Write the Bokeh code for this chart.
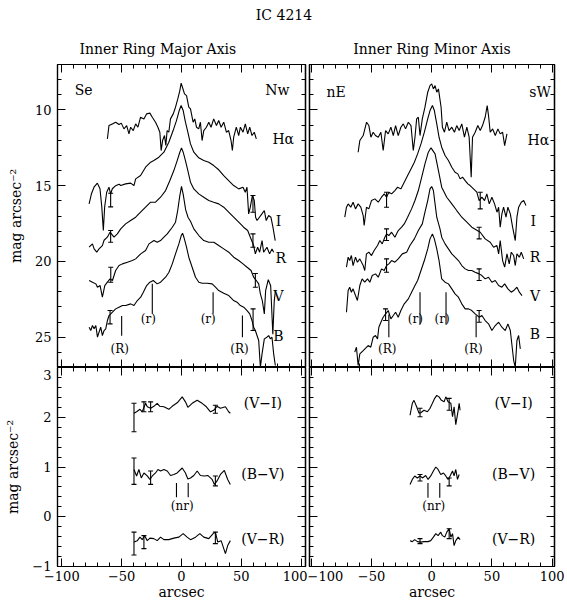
from bokeh.plotting import figure
from bokeh.models import Range1d, LinearAxis, FixedTicker, Label
from bokeh.layouts import column, row
from bokeh.embed import file_html
from bokeh.resources import INLINE

FONT = "DejaVu Serif"

# ---------------- data (x in arcsec, y in mag arcsec^-2) ----------------
HA_MAJ = [(-61.9,11.91),(-60.6,11.03),(-57.8,10.92),(-55.0,10.81),(-52.2,10.96),(-50.3,10.87),(-48.1,11.25),
          (-45.8,11.03),(-43.9,11.58),(-42.5,11.14),(-40.3,11.36),(-38.3,10.92),(-36.4,11.14),(-34.2,10.48),
          (-31.4,10.59),(-29.2,10.26),(-26.4,10.21),(-24.4,10.48),(-21.7,10.81),(-19.7,11.14),(-18.1,11.47),
          (-17.0,12.68),(-15.8,12.02),(-14.2,11.69),(-13.1,12.35),(-12.0,11.36),(-10.6,11.47),(-9.2,10.59),
          (-6.9,10.26),(-5.0,9.82),(-3.1,9.27),(-1.4,8.72),(-0.3,8.23),(0.8,8.50),(2.5,8.94),(4.2,9.05),
          (6.1,9.82),(7.5,9.93),(9.7,10.81),(11.1,10.59),(12.5,11.14),(14.4,11.25),(15.8,10.81),(17.2,12.02),
          (18.6,11.36),(20.8,11.14),(22.8,10.81),(24.7,11.14),(26.9,10.59),(29.2,11.03),(31.1,10.70),
          (33.1,11.14),(35.3,10.81),(37.5,11.47),(39.4,11.36),(41.4,12.02),(42.5,12.68),(43.6,11.80),
          (45.8,11.14),(47.8,11.69),(49.2,11.14),(51.4,11.47),(53.3,10.92),(55.3,11.58),(57.0,11.14),
          (58.9,11.69),(60.8,11.47),(62.5,11.91)]
I_MAJ = [(-77.2,16.2),(-75.3,15.55),(-73.1,15.1),(-70.3,14.83),(-68.1,15.2),(-66.6,16.4),(-65.3,17.96),
         (-64.2,16.4),(-62.5,15.43),(-60.6,15.1),(-59.2,15.55),(-57.8,15.2),(-55.0,15.0),(-52.2,14.9),
         (-50.8,14.99),(-46.7,14.88),(-42.5,14.83),(-39.7,14.99),(-38.3,14.55),(-34.2,14.33),(-30.0,13.78),
         (-25.8,13.45),(-23.1,13.34),(-18.9,13.12),(-14.7,12.79),(-10.6,12.13),(-7.0,11.36),(-4.2,10.7),
         (-1.9,10.04),(-0.3,9.71),(1.4,10.04),(3.3,10.81),(5.3,11.47),(7.5,12.24),(10.3,12.79),(14.4,13.16),
         (18.6,13.34),(22.8,13.45),(26.9,13.67),(31.1,13.95),(35.3,14.33),(39.4,14.66),(43.6,14.99),
         (47.8,15.21),(51.4,15.1),(53.3,15.43),(54.7,15.1),(56.1,16.86),(57.5,16.42),(59.2,15.65),
         (60.8,15.98),(61.9,17.08),(63.1,17.3),(67.2,16.86),(69.2,16.64),(70.8,17.3),(72.8,16.97),
         (74.7,17.08),(76.4,17.74),(78.3,18.62)]
R_MAJ = [(-77.2,19.06),(-74.4,18.84),(-73.0,19.17),(-70.8,19.39),(-68.9,19.17),(-66.1,18.95),(-64.7,18.6),
         (-62.0,18.4),(-59.7,18.07),(-56.4,18.4),(-53.6,18.18),(-50.8,17.85),(-46.7,17.52),(-42.5,17.3),
         (-38.3,17.08),(-34.2,16.75),(-30.0,16.42),(-25.8,16.09),(-21.7,16.09),(-17.5,15.76),(-13.3,15.32),
         (-9.7,14.66),(-6.4,14.0),(-3.6,13.34),(-1.4,12.79),(0.0,12.5),(1.4,12.79),(3.3,13.34),(5.3,14.0),
         (7.5,14.77),(10.3,15.21),(14.4,15.54),(18.6,15.76),(22.8,15.98),(26.9,16.09),(31.1,16.2),
         (35.3,16.42),(39.4,16.75),(43.6,17.08),(47.8,17.41),(51.9,17.74),(55.3,17.96),(57.5,18.4),
         (60.3,18.95),(61.7,19.5),(63.6,19.06),(65.3,19.39),(67.3,18.62),(68.6,19.39),(71.4,19.06),
         (73.6,19.5),(75.6,19.17),(77.0,19.39)]
V_MAJ = [(-77.2,21.26),(-74.4,21.37),(-71.6,21.48),(-70.2,21.7),(-68.0,21.59),(-66.1,22.36),(-64.1,21.59),
         (-61.9,21.37),(-59.7,21.15),(-57.7,21.26),(-55.0,20.6),(-52.2,20.27),(-49.4,20.16),(-45.2,20.05),
         (-41.1,19.94),(-38.3,19.83),(-34.1,19.5),(-30.0,19.28),(-27.2,18.84),(-23.0,18.62),(-20.3,18.73),
         (-17.5,18.62),(-14.7,18.4),(-11.9,18.18),(-7.7,17.74),(-5.0,17.41),(-3.3,16.7),(-1.5,15.7),
         (0.0,15.05),(1.5,15.6),(3.5,16.6),(5.5,17.1),(7.5,17.35),(10.3,17.85),(14.5,18.29),(18.6,18.62),
         (22.8,18.73),(27.0,18.73),(31.1,18.95),(35.3,19.17),(39.5,19.39),(43.6,19.72),(47.8,19.94),
         (51.4,20.16),(54.8,20.38),(58.1,20.6),(60.3,21.04),(62.5,21.26),(64.5,21.48),(65.9,22.14),
         (67.5,22.58),(69.2,23.46),(70.3,21.92),(72.5,21.2),(74.5,21.6),(76.3,24.8),(77.5,22.6),(78.5,21.9)]
B_MAJ = [(-77.2,24.34),(-75.8,24.56),(-74.4,24.23),(-73.0,24.45),(-71.6,24.23),(-70.2,25.0),(-68.9,24.67),
         (-67.5,24.34),(-66.1,24.89),(-64.7,24.56),(-63.3,24.45),(-61.9,23.9),(-60.5,23.57),(-57.7,23.35),
         (-55.0,23.13),(-52.2,23.02),(-49.4,22.91),(-46.6,22.91),(-42.5,22.8),(-39.7,22.91),(-36.9,22.58),
         (-34.1,22.36),(-31.9,22.03),(-29.1,21.59),(-26.4,21.37),(-23.6,21.26),(-20.3,21.48),(-17.5,21.37),
         (-13.3,21.04),(-10.5,20.71),(-7.7,20.16),(-5.0,19.5),(-2.2,18.84),(-0.2,18.29),(0.9,18.14),
         (2.0,18.4),(4.2,19.06),(6.1,19.72),(8.9,20.38),(11.7,21.04),(14.5,21.37),(17.3,21.44),(21.4,21.44),
         (25.6,21.48),(28.4,21.7),(31.1,21.92),(35.3,22.1),(39.5,22.25),(43.6,22.58),(46.4,22.69),
         (49.2,22.91),(52.0,23.02),(54.8,23.24),(57.0,23.46),(58.9,23.9),(60.3,24.34),(61.7,24.56),
         (63.1,24.89),(64.5,25.22),(65.9,26.98),(67.3,26.1),(69.2,25.11),(71.4,25.0),(72.8,24.89),
         (74.2,25.11),(75.6,25.0),(77.0,26.1),(78.4,26.87)]

HA_MIN = [(-61.1,12.79),(-59.7,12.02),(-56.9,11.69),(-54.1,10.81),(-52.2,11.03),(-50.5,11.8),(-48.6,11.47),
          (-46.7,11.69),(-44.4,11.8),(-42.2,11.47),(-40.3,12.68),(-38.3,11.36),(-36.1,11.58),(-33.9,11.14),
          (-31.9,11.69),(-30.0,11.03),(-27.8,11.69),(-25.6,11.14),(-23.6,10.92),(-21.7,11.25),(-19.4,10.81),
          (-17.2,11.03),(-15.3,12.68),(-13.9,11.8),(-12.5,10.59),(-11.1,10.48),(-9.7,11.69),(-7.8,10.59),
          (-5.6,9.82),(-3.3,8.83),(-1.4,8.39),(0.0,8.28),(1.4,8.61),(2.8,8.39),(4.2,8.83),(5.6,8.61),
          (7.8,9.82),(8.9,11.14),(10.6,11.47),(12.5,10.81),(14.4,11.36),(16.7,11.14),(18.9,11.47),
          (20.8,11.03),(22.8,11.36),(25.0,10.92),(27.2,11.8),(29.2,11.14),(31.1,11.8),(32.8,14.44),
          (33.9,11.8),(36.1,11.47),(38.3,11.03),(40.3,11.36),(42.2,11.03),(44.4,10.48),(46.1,9.71),
          (47.2,10.37),(48.6,11.47),(50.6,11.25),(52.8,11.69),(55.0,11.25),(56.9,11.58),(58.9,11.47),
          (60.6,12.35),(62.5,11.58)]
I_MIN = [(-72.2,17.08),(-70.8,16.42),(-69.4,16.2),(-67.2,16.42),(-65.3,16.09),(-63.3,16.53),(-61.1,16.2),
         (-58.9,16.42),(-56.9,16.97),(-56.1,17.63),(-54.2,16.42),(-52.2,16.53),(-50.0,15.98),(-47.2,15.87),
         (-44.4,16.09),(-41.7,15.76),(-39.4,15.54),(-37.5,15.76),(-35.6,15.43),(-33.3,15.54),(-30.6,15.32),
         (-28.3,15.1),(-25.6,15.21),(-22.8,14.77),(-20.0,14.33),(-17.2,13.89),(-14.4,13.45),(-11.7,12.9),
         (-8.9,12.24),(-6.1,11.47),(-3.3,10.59),(-1.4,10.04),(0.6,9.71),(2.2,10.04),(4.2,10.92),(6.1,11.8),
         (8.3,12.46),(11.1,13.01),(13.9,13.34),(16.7,13.78),(19.4,14.11),(21.7,14.22),(23.6,14.55),
         (25.6,14.44),(27.8,14.66),(30.0,14.88),(31.9,14.99),(34.7,15.21),(37.5,15.43),(39.4,15.98),
         (41.7,15.76),(43.9,15.98),(45.8,15.54),(47.8,16.2),(50.0,15.76),(52.2,16.2),(54.2,16.75),
         (55.6,16.42),(56.9,17.74),(58.3,16.86),(59.7,16.42),(61.7,17.08),(63.3,16.42),(65.3,16.86),
         (67.2,17.74),(69.4,18.62),(70.8,17.08),(72.2,16.42),(74.4,16.09),(76.4,15.98),(78.3,16.31)]
R_MIN = [(-70.8,20.38),(-69.4,19.72),(-68.1,19.94),(-66.7,19.61),(-65.3,20.27),(-63.3,19.72),(-61.7,20.05),
         (-59.7,19.83),(-56.9,20.27),(-55.6,20.6),(-54.2,19.5),(-52.2,19.39),(-50.0,19.61),(-47.8,19.28),
         (-45.0,18.95),(-43.1,18.62),(-41.1,18.84),(-38.9,18.4),(-37.5,18.18),(-35.6,18.29),(-33.3,18.07),
         (-30.6,18.4),(-27.8,17.96),(-25.0,17.74),(-22.8,17.52),(-20.0,17.08),(-16.7,16.53),(-13.9,15.98),
         (-11.1,15.32),(-8.3,14.44),(-5.6,13.56),(-2.8,12.79),(-0.6,12.5),(2.8,12.9),(5.6,14.0),(8.3,15.1),
         (12.5,15.76),(16.7,16.2),(20.8,16.64),(25.0,17.08),(29.2,17.41),(33.3,17.74),(40.3,18.07),
         (44.4,18.51),(48.6,18.73),(51.4,19.06),(54.2,18.95),(55.6,19.5),(56.9,18.62),(58.9,19.94),
         (60.6,20.38),(62.5,19.5),(64.4,20.16),(66.1,19.39),(68.1,19.61),(69.4,20.27),(70.8,19.5),
         (72.8,19.72),(74.4,19.39),(76.4,19.83)]
V_MIN = [(-70.8,23.35),(-69.4,21.92),(-68.1,21.7),(-66.7,22.03),(-65.3,21.81),(-63.3,22.25),(-61.7,22.58),
         (-59.7,21.59),(-57.8,21.15),(-55.6,21.37),(-53.3,21.15),(-51.4,21.37),(-49.4,20.93),(-46.7,20.82),
         (-44.4,21.04),(-41.7,20.49),(-39.4,20.6),(-37.5,20.27),(-35.6,20.16),(-33.3,19.94),(-30.6,20.05),
         (-27.8,19.83),(-24.4,19.5),(-20.8,19.39),(-18.1,18.95),(-14.4,18.51),(-11.1,17.96),(-7.8,17.52),
         (-5.6,16.75),(-3.3,15.98),(-1.4,15.21),(0.0,15.05),(1.4,15.32),(2.8,16.2),(4.2,17.08),(5.0,17.3),
         (6.9,17.85),(8.3,18.4),(11.1,18.84),(13.9,19.17),(16.7,19.5),(19.4,19.72),(22.2,19.94),(25.0,20.27),
         (27.8,20.49),(30.6,20.6),(33.3,20.6),(36.1,20.71),(39.4,20.82),(41.7,20.93),(44.4,21.15),
         (47.2,21.04),(50.0,21.37),(52.8,21.26),(55.6,21.59),(58.3,21.7),(60.6,21.48),(63.3,21.81),
         (66.1,22.03),(68.1,21.92),(70.8,21.7),(72.8,22.03),(75.0,22.25)]
B_MIN = [(-63.9,25.99),(-62.5,25.66),(-61.1,26.87),(-59.7,26.1),(-56.9,25.88),(-52.8,25.55),(-50.6,25.66),
         (-48.6,25.0),(-46.7,24.89),(-45.0,25.11),(-43.9,24.34),(-42.2,24.01),(-40.3,23.68),(-38.3,23.46),
         (-36.1,23.24),(-33.9,23.79),(-31.9,23.57),(-30.0,23.35),(-27.8,23.68),(-25.6,23.24),(-22.8,22.8),
         (-19.4,22.47),(-16.7,22.03),(-13.9,21.59),(-11.7,21.26),(-8.9,20.6),(-6.1,19.94),(-3.3,19.17),
         (-1.4,18.51),(0.6,18.18),(2.2,18.51),(4.2,19.17),(6.1,19.94),(8.3,21.15),(11.1,21.37),(13.9,21.48),
         (16.7,21.81),(19.4,22.14),(22.2,22.36),(25.0,22.8),(27.8,23.13),(30.6,23.13),(33.3,23.24),
         (36.1,23.46),(39.4,23.68),(41.7,23.57),(44.4,23.9),(47.2,24.12),(50.0,24.56),(52.8,24.23),
         (55.6,24.01),(58.3,24.34),(61.1,24.56),(63.3,24.12),(65.3,24.56),(68.1,26.54),(69.4,26.98),
         (70.8,25.22),(72.2,24.89),(73.6,25.77)]

# colour profiles (mag arcsec^-2)
VI_MAJ = [(-39.7,2.08),(-37.5,2.11),(-34.7,2.16),(-32.8,2.11),(-30.0,2.28),(-28.6,2.21),(-25.8,2.18),
          (-23.1,2.22),(-20.3,2.28),(-18.1,2.22),(-14.7,2.21),(-10.6,2.16),(-7.8,2.22),(-3.6,2.29),
          (0.6,2.41),(3.3,2.31),(5.3,2.2),(8.9,2.28),(13.1,2.34),(17.2,2.28),(20.8,2.21),(24.2,2.11),
          (26.9,2.14),(29.7,2.22),(32.5,2.18),(36.7,2.21),(39.4,2.11),(40.8,2.08)]
BV_MAJ = [(-39.7,0.95),(-37.5,0.82),(-35.6,0.95),(-33.6,0.78),(-31.4,0.88),(-28.6,0.82),(-26.4,0.75),
          (-24.4,0.82),(-21.7,0.88),(-19.7,0.95),(-17.5,0.92),(-14.7,0.95),(-11.9,0.92),(-9.2,0.83),
          (-6.4,0.85),(-3.6,0.88),(0.6,0.98),(3.3,0.88),(5.3,0.76),(7.5,0.78),(10.3,0.83),(13.1,0.92),
          (15.8,0.83),(19.2,0.82),(21.9,0.83),(25.6,0.75),(27.5,0.65),(29.7,0.72),(32.5,0.85),(35.8,0.93),
          (38.6,0.75),(40.8,0.65)]
VR_MAJ = [(-39.7,-0.51),(-36.9,-0.48),(-34.7,-0.41),(-32.8,-0.46),(-30.8,-0.38),(-28.6,-0.48),(-26.4,-0.43),
          (-23.1,-0.44),(-20.3,-0.48),(-17.5,-0.41),(-14.7,-0.46),(-10.6,-0.46),(-6.4,-0.43),(-2.2,-0.41),
          (1.4,-0.34),(4.7,-0.41),(7.5,-0.46),(11.7,-0.41),(15.3,-0.34),(18.6,-0.41),(22.8,-0.44),
          (26.4,-0.34),(28.3,-0.31),(30.3,-0.51),(33.1,-0.48),(36.7,-0.74),(38.6,-0.58),(40.8,-0.48)]
VI_MIN = [(-18.0,2.04),(-16.1,2.28),(-14.7,2.34),(-12.5,2.21),(-10.5,2.08),(-9.1,2.09),(-6.4,2.14),
          (-3.6,2.11),(-1.4,2.18),(0.6,2.28),(2.5,2.38),(4.2,2.44),(6.1,2.41),(8.1,2.34),(10.3,2.31),
          (11.7,2.41),(13.6,2.31),(15.9,2.28),(17.3,2.01),(18.6,2.21),(20.0,1.85),(22.0,2.14),(22.8,2.28),
          (23.6,2.14)]
BV_MIN = [(-18.0,0.65),(-16.1,0.75),(-14.1,0.82),(-11.9,0.78),(-9.7,0.82),(-7.7,0.78),(-5.0,0.83),
          (-3.0,0.75),(-0.8,0.82),(1.4,0.92),(3.4,1.0),(5.3,0.95),(7.5,0.85),(9.8,0.88),(11.7,0.82),
          (13.6,0.75),(15.3,0.82),(17.3,0.92),(18.6,0.82),(20.0,0.95),(21.4,0.75),(22.8,0.85)]
VR_MIN = [(-18.0,-0.48),(-16.1,-0.5),(-14.1,-0.46),(-11.9,-0.5),(-9.1,-0.51),(-6.4,-0.5),(-3.0,-0.5),
          (-0.8,-0.48),(1.4,-0.41),(3.4,-0.34),(5.3,-0.38),(7.5,-0.31),(8.9,-0.38),(10.9,-0.41),(12.5,-0.31),
          (14.5,-0.24),(15.9,-0.41),(17.3,-0.34),(18.6,-0.58),(20.0,-0.48),(22.0,-0.41),(23.6,-0.46)]

# error bars: (x, low, high)
ERR_MAJ = [(-59.2,15.5,16.4),(59.7,15.65,16.75),(-59.2,17.96,18.73),(59.7,18.18,19.06),
           (-59.1,20.38,21.37),(61.7,20.8,21.7),(-59.7,23.24,24.12),(59.8,23.13,24.56)]
ERR_MIN = [(-37.5,15.43,16.42),(40.3,15.43,16.53),(-37.5,17.85,18.62),(39.4,17.74,18.51),
           (-37.5,19.83,20.71),(39.4,20.49,21.26),(-38.3,23.13,23.9),(39.4,23.24,24.01)]
ERR_COL_MAJ = [(-39.7,1.71,2.28),(-31.4,2.11,2.31),(-25.8,2.11,2.31),(28.3,2.08,2.24),
               (-39.7,0.65,1.18),(-25.8,0.65,0.92),(28.3,0.62,0.82),
               (-39.7,-0.77,-0.31),(-31.4,-0.64,-0.38),(28.3,-0.54,-0.31)]
ERR_COL_MIN = [(-9.7,2.01,2.18),(14.5,2.14,2.38),(-9.7,0.72,0.85),(14.5,0.62,0.78),
               (-9.7,-0.54,-0.44),(14.5,-0.44,-0.24)]

# ring markers: (x, top, bottom) and their labels (text, x, y)
RING_MAJ = [(-50.0,23.6,24.9),(-24.4,21.48,23.46),(26.4,22.03,23.46),(50.9,23.57,25.0)]
RING_MAJ_TXT = [("(R)",-51.6,25.77),("(r)",-27.7,23.83),("(r)",22.3,23.83),("(R)",48.4,25.77)]
RING_MIN = [(-35.6,23.5,25.0),(-9.7,22.03,24.16),(11.9,22.03,24.16),(36.9,23.57,25.0)]
RING_MIN_TXT = [("(R)",-36.9,25.77),("(r)",-13.6,23.83),("(r)",8.6,23.83),("(R)",34.7,25.77)]
NR_MAJ = [(-4.2,0.39,0.68),(5.6,0.39,0.68)]
NR_MIN = [(-3.1,0.38,0.68),(6.7,0.38,0.68)]
NR_MAJ_TXT = ("(nr)", 0.6, 0.22)
NR_MIN_TXT = ("(nr)", 1.7, 0.22)

BANDS = ["Hα", "I", "R", "V", "B"]
BAND_MAJ_POS = [(85,11.9),(81,17.3),(83,19.8),(81,22.3),(81,24.9)]
BAND_MIN_POS = [(88.6,12.0),(84.4,17.3),(85.8,19.7),(85.8,22.25),(85.8,24.8)]
CORNER_MAJ = [("Se",-81.7,8.7),("Nw",80,8.7)]
CORNER_MIN = [("nE",-79.4,8.8),("sW",90,8.8)]
COLORS = ["(V−I)", "(B−V)", "(V−R)"]
COLOR_POS_Y = [2.28, 0.85, -0.44]
COLOR_POS_X = 68

X_MAJ = (-103.6, 103.6)
X_MIN = (-101.5, 102.0)
Y_TOP = (27, 7)
Y_BOT = (-1, 3)
X_TICKS = [-100, -50, 0, 50, 100]
X_MINOR = [-90, -80, -70, -60, -40, -30, -20, -10, 10, 20, 30, 40, 60, 70, 80, 90]
MAG_TICKS = [10, 15, 20, 25]
MAG_MINOR = [8, 9, 11, 12, 13, 14, 16, 17, 18, 19, 21, 22, 23, 24, 26]
COL_TICKS = [-1, 0, 1, 2, 3]
COL_MINOR = [-0.8, -0.6, -0.4, -0.2, 0.2, 0.4, 0.6, 0.8, 1.2, 1.4, 1.6, 1.8, 2.2, 2.4, 2.6, 2.8]
YLABEL = "mag arcsec⁻²"
# tick-label text: typeset minus signs; the top "3" sits just below the panel divider
LABEL_TEXT = {-100: "−100", -50: "−50", -1: "−1", 3: "\n3"}


def unzip(pairs):
    return [q[0] for q in pairs], [q[1] for q in pairs]


def new_fig(w, h, xr, yr, left, right, top, bottom, title=None, **extra):
    kw = dict(extra)
    if title is not None:
        kw["title"] = title
    p = figure(width=w, height=h, x_range=Range1d(*xr), y_range=Range1d(*yr),
               x_axis_type=None, y_axis_type=None, toolbar_location=None,
               output_backend="svg", min_border_left=left, min_border_right=right,
               min_border_top=top, min_border_bottom=bottom, **kw)
    p.outline_line_color = "black"
    p.outline_line_width = 1.2
    p.background_fill_color = "white"
    p.border_fill_color = "white"
    if title is not None:
        p.title.text_font = FONT
        p.title.text_font_size = "14px"
        p.title.text_font_style = "normal"
        p.title.text_color = "black"
    return p


def labeled_axis(p, side, ticks, minor, label=None, label_standoff=6, axis_label_standoff=6,
                 line_height=None):
    ax = LinearAxis(ticker=FixedTicker(ticks=ticks, minor_ticks=minor))
    ax.major_tick_in = 8
    ax.major_tick_out = 0
    ax.minor_tick_in = 4
    ax.minor_tick_out = 0
    ax.major_tick_line_color = "black"
    ax.minor_tick_line_color = "black"
    ax.axis_line_color = "black"
    ax.axis_line_width = 1.2
    ax.major_label_text_font = FONT
    ax.major_label_text_font_size = "13px"
    ax.major_label_text_color = "black"
    ax.major_label_standoff = label_standoff
    if line_height is not None:
        ax.major_label_text_line_height = line_height
    ax.major_label_overrides = {k: v for k, v in LABEL_TEXT.items() if k in ticks}
    if label:
        ax.axis_label = label
        ax.axis_label_text_font = FONT
        ax.axis_label_text_font_size = "14px"
        ax.axis_label_text_font_style = "normal"
        ax.axis_label_text_color = "black"
        ax.axis_label_standoff = axis_label_standoff
    p.add_layout(ax, side)


def tick_axis(p, side, major, minor):
    # label-free tick marks: both tick sets drawn as minor ticks of two stacked axes
    for pos, length in ((major, 8), (minor, 4)):
        ax = LinearAxis(ticker=FixedTicker(ticks=[], minor_ticks=pos))
        ax.major_tick_in = 0
        ax.major_tick_out = 0
        ax.minor_tick_in = length
        ax.minor_tick_out = 0
        ax.minor_tick_line_color = "black"
        ax.major_label_standoff = 0
        ax.axis_line_color = "black"
        ax.axis_line_width = 1.2
        p.add_layout(ax, side)


def draw_lines(p, curves):
    for c in curves:
        xs, ys = unzip(c)
        p.line(xs, ys, line_color="black", line_width=1.1)


def draw_bars(p, bars, cap=True):
    xs = [b[0] for b in bars]
    lo = [b[1] for b in bars]
    hi = [b[2] for b in bars]
    p.segment(x0=xs, y0=lo, x1=xs, y1=hi, line_color="black", line_width=1.1)
    if cap:
        p.scatter(xs, lo, marker="dash", size=5, line_color="black", line_width=1.1)
        p.scatter(xs, hi, marker="dash", size=5, line_color="black", line_width=1.1)


def put_text(p, text, x, y, size="14px", align="center"):
    p.add_layout(Label(x=x, y=y, text=text, text_font=FONT, text_font_size=size,
                       text_align=align, text_baseline="middle", text_color="black"))


# ---------------- header ----------------
H = new_fig(567, 30, (0, 1), (0, 1), 0, 0, 22, 0, title="IC 4214")
H.title.align = "center"
H.title.standoff = 0
H.outline_line_color = None

# ---------------- top-left: major axis profiles ----------------
TL = new_fig(307, 337, X_MAJ, Y_TOP, 57, 2, 34, 0, title="Inner Ring Major Axis")
TL.title.align = "left"
TL.title.offset = 22
TL.title.standoff = 15
labeled_axis(TL, "left", MAG_TICKS, MAG_MINOR, label=YLABEL, axis_label_standoff=8)
tick_axis(TL, "right", MAG_TICKS, MAG_MINOR)
tick_axis(TL, "above", X_TICKS, X_MINOR)
tick_axis(TL, "below", X_TICKS, X_MINOR)
draw_lines(TL, [HA_MAJ, I_MAJ, R_MAJ, V_MAJ, B_MAJ])
draw_bars(TL, ERR_MAJ)
draw_bars(TL, RING_MAJ, cap=False)
for t, x, y in RING_MAJ_TXT:
    put_text(TL, t, x, y, size="12px")
for name, (x, y) in zip(BANDS, BAND_MAJ_POS):
    put_text(TL, name, x, y)
for t, x, y in CORNER_MAJ:
    put_text(TL, t, x, y)

# ---------------- top-right: minor axis profiles ----------------
TR = new_fig(260, 337, X_MIN, Y_TOP, 2, 13, 34, 0, title="Inner Ring Minor Axis")
TR.title.align = "center"
TR.title.standoff = 15
tick_axis(TR, "left", MAG_TICKS, MAG_MINOR)
tick_axis(TR, "right", MAG_TICKS, MAG_MINOR)
tick_axis(TR, "above", X_TICKS, X_MINOR)
tick_axis(TR, "below", X_TICKS, X_MINOR)
draw_lines(TR, [HA_MIN, I_MIN, R_MIN, V_MIN, B_MIN])
draw_bars(TR, ERR_MIN)
draw_bars(TR, RING_MIN, cap=False)
for t, x, y in RING_MIN_TXT:
    put_text(TR, t, x, y, size="12px")
for name, (x, y) in zip(BANDS, BAND_MIN_POS):
    put_text(TR, name, x, y)
for t, x, y in CORNER_MIN:
    put_text(TR, t, x, y)

# ---------------- bottom-left: major axis colours ----------------
# canvas starts 8 px above the frame (overlapping the row above, transparent)
BL = new_fig(307, 243, X_MAJ, Y_BOT, 57, 2, 8, 35, margin=(-8, 0, 0, 0))
BL.border_fill_alpha = 0
labeled_axis(BL, "left", COL_TICKS, COL_MINOR, label=YLABEL, axis_label_standoff=8, line_height=0.55)
tick_axis(BL, "right", COL_TICKS, COL_MINOR)
tick_axis(BL, "above", X_TICKS, X_MINOR)
labeled_axis(BL, "below", X_TICKS, X_MINOR, label="arcsec", label_standoff=4, axis_label_standoff=0)
draw_lines(BL, [VI_MAJ, BV_MAJ, VR_MAJ])
draw_bars(BL, ERR_COL_MAJ)
draw_bars(BL, NR_MAJ, cap=False)
put_text(BL, NR_MAJ_TXT[0], NR_MAJ_TXT[1], NR_MAJ_TXT[2], size="12px")
for t, y in zip(COLORS, COLOR_POS_Y):
    put_text(BL, t, COLOR_POS_X, y)

# ---------------- bottom-right: minor axis colours ----------------
BR = new_fig(260, 243, X_MIN, Y_BOT, 2, 13, 8, 35, margin=(-8, 0, 0, 0))
BR.border_fill_alpha = 0
tick_axis(BR, "left", COL_TICKS, COL_MINOR)
tick_axis(BR, "right", COL_TICKS, COL_MINOR)
tick_axis(BR, "above", X_TICKS, X_MINOR)
labeled_axis(BR, "below", X_TICKS, X_MINOR, label="arcsec", label_standoff=4, axis_label_standoff=0)
draw_lines(BR, [VI_MIN, BV_MIN, VR_MIN])
draw_bars(BR, ERR_COL_MIN)
draw_bars(BR, NR_MIN, cap=False)
put_text(BR, NR_MIN_TXT[0], NR_MIN_TXT[1], NR_MIN_TXT[2], size="12px")
for t, y in zip(COLORS, COLOR_POS_Y):
    put_text(BR, t, COLOR_POS_X, y)

layout = column(H, row(TL, TR), row(BL, BR))
open("out.html", "w").write(file_html(layout, INLINE))
